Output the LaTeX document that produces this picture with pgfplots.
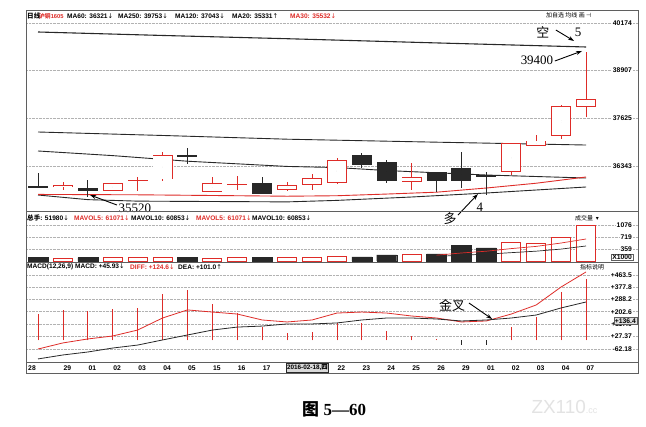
\documentclass[border=0pt]{standalone}
\usepackage{pgfplots}
\pgfplotsset{compat=1.18}
\usepackage{pgfplotstable}
\usetikzlibrary{arrows.meta}
\usepackage{fontspec}
\setmainfont{Liberation Sans}
\newfontfamily\cjk{Noto Sans CJK SC}
\newfontfamily\tms{Liberation Serif}
\newfontfamily\dejavu{DejaVu Sans}

\definecolor{kred}{RGB}{222,44,40}
\definecolor{kblk}{RGB}{40,40,40}
\definecolor{frm}{RGB}{95,95,95}

\newcommand\tk{\fontsize{6.8}{8}\selectfont\bfseries}
\newcommand\hd{\fontsize{6.6}{8}\selectfont\bfseries}
\newcommand\dn{{\dejavu\mdseries ↓}}
\newcommand\up{{\dejavu\mdseries ↑}}

% rising candles: open high low close, volume in 1000 lots
\pgfplotstableread{
i o h l c v
2 35770 35920 35698 35832 90
4 35672 35895 35665 35880 95
5 35950 36055 35680 35960 95
6 35985 36725 35948 36636 100
8 35650 36047 35645 35886 90
9 35846 36074 35698 35860 95
11 35698 35913 35672 35832 95
12 35832 36127 35698 36020 100
13 35886 36556 35860 36502 150
16 35913 36422 35698 36040 210
20 36190 36960 36100 36950 568
21 36878 37172 36870 37020 538
22 37146 37976 37057 37950 718
23 37923 39400 37655 38137 1076
}\upk
% falling candles
\pgfplotstableread{
i o h l c v
1 35806 36146 35745 35760 100
3 35743 35966 35520 35672 100
7 36620 36816 36395 36600 100
10 35886 36047 35580 35591 110
14 36636 36700 36280 36368 120
15 36441 36502 35894 35948 180
17 36173 36180 35652 35948 210
18 36280 36725 35744 35948 478
19 36092 36190 35565 36074 389
}\downk
\pgfplotstableread{
i bar diff dea
1 186 -61 -131
2 214 -18 -103
3 207 10 -82
4 221 31 -54
5 228 73 -33
6 327 158 3
7 356 215 38
8 257 200 73
9 193 186 94
10 94 144 101
11 52 130 116
12 59 144 116
13 123 193 123
14 123 200 144
15 66 193 158
16 31 172 158
17 8 158 151
18 -30 130 137
19 -30 137 144
20 94 186 158
21 165 250 179
22 340 377 229
23 433 483 271
}\macd

\pgfplotsset{
  panel/.style={
    scale only axis, width=612bp, anchor=north west,
    xmin=0.518, xmax=25.087,
    axis line style={frm, line width=0.7pt},
    major tick length=0pt,
    scaled y ticks=false,
    ymajorgrids, grid style={densely dotted, gray!60, line width=0.4pt},
    yticklabel pos=right,
    yticklabel style={anchor=east, xshift=-5bp, font=\tk, inner sep=1pt, fill=white},
    xtick=\empty,
    clip=false,
  },
  bars/.style={only marks, mark=*, mark size=0pt, mark options={draw=none, fill=none}},
}

\begin{document}
\begin{tikzpicture}
\fill[white] (0,0) rectangle (646bp,-427bp);
\path[use as bounding box] (0,0) rectangle (646bp,-427bp);

% ---------- price panel ----------
\begin{axis}[panel, at={(26bp,-10bp)}, height=201bp,
  ymin=35135.6, ymax=40522.4,
  ytick={36343,37625,38907,40174},
  yticklabels={36343,37625,38907,40174}]

\addplot[kblk, line width=1.1pt] coordinates {(1,39933)(6,39840)(11,39753)(17,39640)(23,39531)};
\addplot[kblk, line width=0.9pt] coordinates {(1,37253)(6,37160)(11,37060)(17,36980)(23,36904)};
\addplot[kblk, line width=0.9pt] coordinates {(1,36744)(4,36620)(7,36470)(11,36330)(13,36300)(15,36220)(19,36100)(23,36020)};
\addplot[kblk, line width=0.9pt] coordinates {(1,35564)(3,35440)(5,35400)(8,35390)(11,35380)(13,35420)(16,35511)(19,35618)(23,35779)};
\addplot[kred, line width=0.9pt] coordinates {(1,35580)(5,35570)(9,35545)(11,35532)(13,35545)(15,35590)(17,35640)(19,35752)(21,35880)(23,36047)};

% wicks
\addplot[bars, error bars/.cd, y dir=both, y explicit, error mark=none,
  error bar style={kred, line width=0.8pt}]
  table[x=i, y expr={(\thisrow{h}+\thisrow{l})/2}, y error expr={(\thisrow{h}-\thisrow{l})/2}] {\upk};
\addplot[bars, error bars/.cd, y dir=both, y explicit, error mark=none,
  error bar style={kblk, line width=0.8pt}]
  table[x=i, y expr={(\thisrow{h}+\thisrow{l})/2}, y error expr={(\thisrow{h}-\thisrow{l})/2}] {\downk};
% bodies
\addplot[bars, error bars/.cd, y dir=both, y explicit, error mark=none,
  error bar style={kblk, line width=20bp}]
  table[x=i, y expr={(\thisrow{o}+\thisrow{c})/2}, y error expr={max(abs(\thisrow{o}-\thisrow{c})/2,16)}] {\downk};
\addplot[bars, error bars/.cd, y dir=both, y explicit, error mark=none,
  error bar style={kred, line width=20bp}]
  table[x=i, y expr={(\thisrow{o}+\thisrow{c})/2}, y error expr={max(abs(\thisrow{o}-\thisrow{c})/2,16)}] {\upk};
\addplot[bars, error bars/.cd, y dir=both, y explicit, error mark=none,
  error bar style={white, line width=18.4bp}]
  table[x=i, y expr={abs(\thisrow{o}-\thisrow{c})>45 ? (\thisrow{o}+\thisrow{c})/2 : nan},
        y error expr={abs(\thisrow{o}-\thisrow{c})/2-21}] {\upk};

% annotations
\node[font=\cjk\fontsize{13}{14}\selectfont] at (axis cs:21.27,39933) {空};
\node[font=\tms\fontsize{13}{14}\selectfont] at (axis cs:22.68,39933) {5};
\draw[-{Stealth[length=6bp,width=4bp]}, line width=0.9pt] (axis cs:21.79,39986) -- (axis cs:22.52,39692);
\node[font=\tms\fontsize{13}{14}\selectfont] at (axis cs:21.03,39182) {39400};
\draw[-{Stealth[length=6bp,width=4bp]}, line width=0.9pt] (axis cs:21.75,39156) -- (axis cs:22.84,39424);
\node[font=\tms\fontsize{13}{14}\selectfont] at (axis cs:4.89,35216) {35520};
\draw[-{Stealth[length=6bp,width=4bp]}, line width=0.9pt] (axis cs:4.17,35296) -- (axis cs:3.09,35564);
\node[font=\cjk\fontsize{13}{14}\selectfont] at (axis cs:17.54,34921) {多};
\node[font=\tms\fontsize{13}{14}\selectfont] at (axis cs:18.74,35243) {4};
\draw[-{Stealth[length=6bp,width=4bp]}, line width=0.9pt] (axis cs:17.86,35028) -- (axis cs:18.66,35591);
\end{axis}

% ---------- volume panel ----------
\begin{axis}[panel, at={(26bp,-211bp)}, height=51bp,
  ymin=-29.9, ymax=1495,
  ytick={359,719,1076}, yticklabels={359,719,1076}]
\addplot[ybar, bar width=20bp, bar shift=0pt, draw=kblk, fill=kblk] table[x=i, y=v] {\downk};
\addplot[ybar, bar width=19bp, bar shift=0pt, draw=kred, fill=white, line width=0.8pt] table[x=i, y=v] {\upk};
\addplot[kred, line width=0.7pt] coordinates {(17,174)(18,240)(19,293)(20,371)(21,437)(22,538)(23,658)};
\addplot[kblk, line width=0.7pt] coordinates {(17,136)(18,175)(19,204)(20,250)(21,294)(22,356)(23,449)};
\node[font=\tk, draw=frm, fill=white, inner sep=0.8pt, anchor=east, xshift=-5bp] at (axis cs:25.087,120) {X1000};
\end{axis}

% ---------- MACD panel ----------
\begin{axis}[panel, at={(26bp,-262bp)}, height=111bp,
  ymin=-230.3, ymax=553.3,
  ytick={-62.18,27.37,117.0,202.6,288.2,377.8,463.5},
  yticklabels={-62.18,+27.37,+117.0,+202.6,+288.2,+377.8,+463.5},
  extra y ticks={-152.7}, extra y tick labels={},
  extra y tick style={grid=major, major grid style={solid, frm, line width=0.7pt}, yticklabel style={fill=none}},
  xtick={0.58,2,3,...,23},
  xticklabels={28,29,01,02,03,04,05,15,16,17,{},{},22,23,24,25,26,29,01,02,03,04,07},
  xticklabel style={anchor=base west, yshift=3bp, inner sep=0.5pt, font=\tk}]
\addplot[ycomb, kred, line width=0.7pt, mark=none] table[x=i, y expr={\thisrow{bar}>0 ? \thisrow{bar} : nan}] {\macd};
\addplot[ycomb, kblk, line width=0.7pt, mark=none] table[x=i, y expr={\thisrow{bar}<0 ? \thisrow{bar} : nan}] {\macd};
\addplot[kred, line width=0.8pt] table[x=i, y=diff] {\macd};
\addplot[kblk, line width=0.8pt] table[x=i, y=dea] {\macd};
\node[font=\tk, draw=frm, fill=gray!25, inner sep=1pt, anchor=east, xshift=-1bp] at (axis cs:25.087,136.4) {+136.4};
\node[font=\cjk\fontsize{13}{14}\selectfont] at (axis cs:17.62,242.7) {金叉};
\draw[-{Stealth[length=6bp,width=4bp]}, line width=0.9pt] (axis cs:18.30,263.9) -- (axis cs:19.23,150.9);
\end{axis}

% ---------- header texts ----------
\node[font=\hd, anchor=west, inner sep=0pt] at (27bp,-16bp) {{\cjk 日线}};
\node[font=\fontsize{5.8}{7}\selectfont\bfseries, anchor=west, inner sep=0pt, text=kred] at (39bp,-16bp) {{\cjk 沪铜}1605};
\node[font=\hd, anchor=west, inner sep=0pt] at (67bp,-16bp) {MA60: 36321\dn};
\node[font=\hd, anchor=west, inner sep=0pt] at (118bp,-16bp) {MA250: 39753\dn};
\node[font=\hd, anchor=west, inner sep=0pt] at (175bp,-16bp) {MA120: 37043\dn};
\node[font=\hd, anchor=west, inner sep=0pt] at (232bp,-16bp) {MA20: 35331\up};
\node[font=\hd, anchor=west, inner sep=0pt, text=kred] at (290bp,-16bp) {MA30: 35532\dn};
\node[font=\cjk\fontsize{6}{7}\selectfont, anchor=west, inner sep=0pt] at (546bp,-15bp) {加自选\ 均线\ 画\ {\dejavu ⊣}};

\node[font=\hd, anchor=west, inner sep=0pt] at (27bp,-218bp) {{\cjk 总手}: 51980\dn};
\node[font=\hd, anchor=west, inner sep=0pt, text=kred] at (74bp,-218bp) {MAVOL5: 61071\dn};
\node[font=\hd, anchor=west, inner sep=0pt] at (131bp,-218bp) {MAVOL10: 60853\dn};
\node[font=\hd, anchor=west, inner sep=0pt, text=kred] at (196bp,-218bp) {MAVOL5: 61071\dn};
\node[font=\hd, anchor=west, inner sep=0pt] at (252bp,-218bp) {MAVOL10: 60853\dn};
\node[font=\cjk\fontsize{6}{7}\selectfont, anchor=west, inner sep=0pt] at (575bp,-218bp) {成交量\ \ {\dejavu ▾}};

\node[font=\hd, anchor=west, inner sep=0pt] at (27bp,-267bp) {MACD(12,26,9) MACD: +45.93\dn};
\node[font=\hd, anchor=west, inner sep=0pt, text=kred] at (130bp,-267bp) {DIFF: +124.6\dn};
\node[font=\hd, anchor=west, inner sep=0pt] at (178bp,-267bp) {DEA: +101.0\up};
\node[font=\cjk\fontsize{6}{7}\selectfont, anchor=west, inner sep=0pt] at (580bp,-267bp) {指标说明};

\node[font=\fontsize{6.4}{7}\selectfont\bfseries, draw=kblk, fill=gray!30, inner sep=0.8pt,
  minimum height=9.5bp, anchor=west] at (286bp,-367.5bp) {2016-02-18,{\cjk 四}};

% ---------- caption and mark ----------
\node[font=\fontsize{17}{19}\selectfont\bfseries] at (334bp,-409bp) {{\cjk 图} {\tms 5—60}};
\node[font=\fontsize{19}{20}\selectfont, text=gray!22, anchor=west] at (528bp,-407bp) {ZX110{\fontsize{9}{10}\selectfont.cc}};
\end{tikzpicture}
\end{document}
